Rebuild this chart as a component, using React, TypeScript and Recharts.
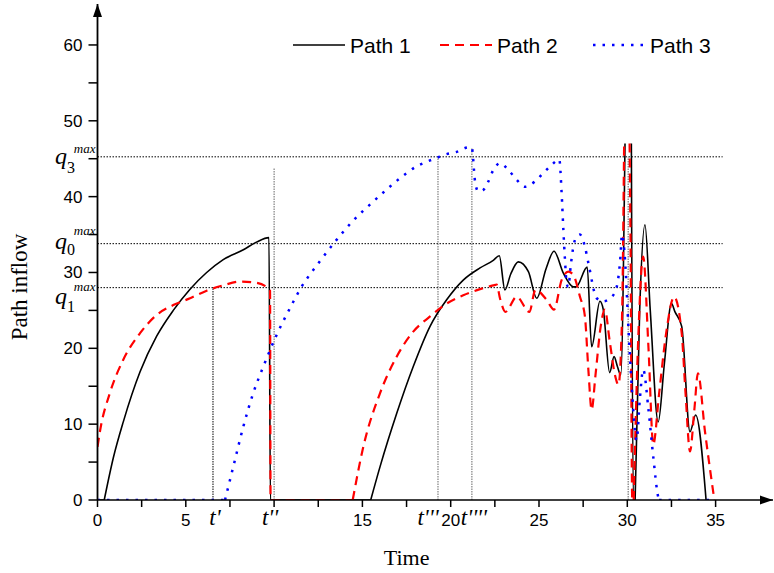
import React from 'react';
import {
  LineChart,
  Line,
  XAxis,
  YAxis,
  ReferenceLine,
  ReferenceDot,
  Legend,
  Label
} from 'recharts';

const SANS = '"Liberation Sans", Arial, sans-serif';
const SERIF = '"Liberation Serif", "Times New Roman", serif';

// [time, path inflow]; null = line leaves the top of the frame
const path1: [number, number | null][] = [
  [0, 0], [0.38, 0], [0.9, 5.6], [1.46, 10.3], [2.41, 16.9], [3.35, 21.6], [4.29, 25.0], [5.24, 27.8],
  [6.18, 30.0], [7.12, 31.7], [8.26, 33.0], [9.0, 34.0], [9.71, 34.6], [9.79, 0], [15.47, 0],
  [16.0, 4.4], [16.94, 11.4], [17.88, 17.6], [18.83, 22.9], [19.77, 26.4], [20.71, 29.0],
  [21.66, 30.6], [22.41, 31.6], [22.75, 32.2], [23.07, 27.7], [23.4, 29.8], [23.83, 31.4],
  [24.4, 30.1], [24.87, 26.6], [25.4, 30.5], [25.85, 32.8], [26.38, 29.9], [26.94, 28.1],
  [27.1, 28.1], [27.73, 30.7], [27.98, 20.2], [28.45, 26.2], [28.64, 25.1], [29.0, 16.8],
  [29.25, 18.9], [29.44, 17.6], [29.63, 16.5], [29.87, 47], [30.0, null], [30.23, 47],
  [30.34, 0], [30.44, 0], [30.7, 25], [31.0, 36.3], [31.3, 25], [31.75, 10.3], [32.1, 18],
  [32.5, 25.9], [32.7, 24.8], [33.08, 22.9], [33.55, 9.0], [33.87, 11.2], [34.46, 0]
];
const path1Corners = [0.38, 15.47, 30.44];

const path2: [number, number | null][] = [
  [0, 7.0], [0.15, 9.2], [0.7, 14.1], [1.46, 18.5], [2.41, 22.0], [3.35, 24.4], [4.29, 25.7],
  [5.24, 26.6], [6.18, 27.6], [7.12, 28.3], [8.07, 28.8], [8.82, 28.7], [9.58, 28.1],
  [9.77, 27.6], [9.8, 0], [14.45, 0], [15.05, 7.0], [16.0, 14.1], [16.94, 18.9], [17.88, 22.2],
  [18.83, 24.2], [19.77, 25.9], [20.71, 27.0], [21.66, 27.8], [22.41, 28.3], [22.6, 28.4],
  [22.8, 26.5], [23.1, 24.8], [23.74, 26.8], [24.45, 24.8], [24.8, 27.7], [25.43, 26.4],
  [25.85, 25.1], [26.28, 29.0], [26.66, 30.1], [26.94, 29.7], [27.32, 26.8], [27.6, 24.2],
  [27.8, 17], [27.98, 11.9], [28.2, 16.5], [28.5, 23], [28.73, 25.1], [29.0, 21], [29.3, 16.5],
  [29.5, 15.2], [29.7, 24], [29.82, 47], [29.95, null], [30.13, 47], [30.18, 35], [30.28, 0],
  [30.36, 0], [30.6, 20], [30.9, 32.1], [31.2, 20], [31.47, 7.3], [31.8, 14], [32.2, 22],
  [32.65, 26.8], [33.08, 22], [33.3, 14], [33.55, 6.4], [33.8, 12], [34.0, 16.7], [34.4, 9],
  [34.93, 0]
];
const path2Corners = [14.45, 30.36];

const path3: [number, number | null][] = [
  [0, 0], [7.22, 0], [7.69, 4.4], [8.26, 9.7], [8.82, 14.1], [9.39, 17.6], [10.15, 21.8],
  [10.9, 25.3], [11.5, 27.9], [12.5, 31.2], [13.5, 34.2], [14.5, 36.9], [15.5, 39.1],
  [16.5, 41.2], [17.5, 43.1], [18.07, 44.0], [18.64, 44.6], [19.2, 45.1], [19.77, 45.6],
  [20.34, 45.9], [21.0, 46.5], [21.19, 46.5], [21.38, 42.0], [21.56, 40.7], [21.85, 40.9],
  [22.13, 42.0], [22.41, 43.5], [22.8, 44.4], [23.27, 43.5], [23.74, 42.2], [24.2, 41.3],
  [24.77, 42.0], [25.24, 43.1], [25.72, 44.2], [26.15, 44.9], [26.28, 40.5], [26.38, 35.6],
  [26.47, 31.7], [26.57, 28.5], [26.66, 28.1], [26.8, 31], [27.04, 34.3], [27.32, 35.0],
  [27.6, 33.4], [27.8, 31.2], [28.27, 26.6], [28.64, 26.2], [29.12, 26.8], [29.4, 28.1],
  [29.6, 31.7], [29.7, 35.0], [29.87, 31.7], [30.06, 22.9], [30.25, 15.0], [30.53, 7.9],
  [30.7, 13], [30.9, 17.2], [31.2, 11.9], [31.47, 5.7], [31.75, 0.4], [31.8, 0], [35, 0]
];
const path3Corners = [7.22, 31.8];

const xMarks = [0, 2.5, 5, 7.5, 10, 12.5, 15, 17.5, 20, 22.5, 25, 27.5, 30, 32.5, 35];
const xNumbers = [0, 5, 15, 20, 25, 30, 35];
const moments = [6.54, 10, 19.28, 21.2];
const momentNames = ["t'", "t''", "t'''", "t''''"];
const momentTops = [28.0, 43.8, 45.25, 46.4];

const yMarks = [0, 5, 10, 15, 20, 25, 30, 35, 40, 45, 50, 55, 60];
const yNumbers = [0, 10, 20, 30, 40, 50, 60];
const qLevels = [45.25, 33.8, 28.0];
const qNames = ['3', '0', '1'];
const capTime = 30.05;

const xTicks = Array.from(new Set([...xMarks, ...moments])).sort((a, b) => a - b);
const yTicks = [...yMarks, ...qLevels].sort((a, b) => a - b);

// rows for recharts; a corner gets a tiny break so the curve keeps its kink there
const rows = (pts: [number, number | null][], corners: number[]) => {
  const out: { t: number; v: number | null }[] = [];
  pts.forEach(([t, v]) => {
    out.push({ t, v });
    if (corners.includes(t)) {
      out.push({ t: t + 0.0005, v: null });
      out.push({ t: t + 0.001, v });
    }
  });
  return out;
};

const momentShift = [2, -4, -10, 2];
const qOffsets = [
  { q: 7, sub: 16, max: -4 },
  { q: 5, sub: 11, max: -9 },
  { q: 16, sub: 24, max: 3 }
];

const XTick = ({ x, y, payload }: any) => {
  const v = payload.value;
  const m = moments.indexOf(v);
  return (
    <g>
      {xMarks.includes(v) && <line x1={x} x2={x} y1={y} y2={y + 7} stroke="#000" strokeWidth={1.5} />}
      {m >= 0 ? (
        <text x={x + momentShift[m]} y={y + 25} textAnchor="middle" fontFamily={SERIF} fontStyle="italic" fontSize={23}>
          {momentNames[m]}
        </text>
      ) : xNumbers.includes(v) ? (
        <text x={x} y={y + 26} textAnchor="middle" fontFamily={SANS} fontSize={17}>
          {v}
        </text>
      ) : null}
    </g>
  );
};

const YTick = ({ x, y, payload }: any) => {
  const v = payload.value;
  const q = qLevels.indexOf(v);
  if (q >= 0) {
    const o = qOffsets[q];
    return (
      <g fontFamily={SERIF}>
        <text x={x - 42.5} y={y + o.q} fontSize={24} fontStyle="italic">q</text>
        <text x={x - 30.5} y={y + o.sub} fontSize={16}>{qNames[q]}</text>
        <text x={x - 2} y={y + o.max} fontSize={13} fontStyle="italic" textAnchor="end">max</text>
      </g>
    );
  }
  return (
    <g>
      <line x1={x - 9} x2={x} y1={y} y2={y} stroke="#000" strokeWidth={1.5} />
      {yNumbers.includes(v) && (
        <text x={x - 15} y={y + 6} textAnchor="end" fontFamily={SANS} fontSize={17}>
          {v}
        </text>
      )}
    </g>
  );
};

const legendItems = [
  { name: 'Path 1', stroke: '#000000', dash: undefined, width: 1.6, x: 293 },
  { name: 'Path 2', stroke: '#ff0000', dash: '9 6', width: 2.2, x: 440 },
  { name: 'Path 3', stroke: '#0000ff', dash: '2.5 7', width: 2.5, x: 593 }
];

const renderLegend = () => (
  <svg width={774} height={70}>
    {legendItems.map(it => (
      <g key={it.name}>
        <line x1={it.x} x2={it.x + 52} y1={45} y2={45} stroke={it.stroke} strokeWidth={it.width} strokeDasharray={it.dash} />
        <text x={it.x + 57} y={53} fontFamily={SANS} fontSize={21}>{it.name}</text>
      </g>
    ))}
  </svg>
);

const upArrow = ({ cx, cy }: any) => <path d={`M${cx},${cy} L${cx - 4.5},${cy + 13} L${cx + 4.5},${cy + 13} Z`} fill="#000" />;
const rightArrow = ({ cx, cy }: any) => <path d={`M${cx},${cy} L${cx - 13},${cy - 4.5} L${cx - 13},${cy + 4.5} Z`} fill="#000" />;

export default function App() {
  return (
    <div style={{ position: 'absolute', left: 0, top: 0, width: 774, height: 573, background: '#fff' }}>
      <LineChart width={774} height={573} margin={{ top: 4, right: 1, left: 0, bottom: 0 }}>
        <XAxis
          dataKey="t"
          type="number"
          domain={[0, 38.25]}
          ticks={xTicks}
          interval={0}
          allowDataOverflow
          height={73}
          tickSize={0}
          tickMargin={0}
          tickLine={false}
          tick={<XTick />}
          axisLine={{ stroke: '#000', strokeWidth: 1.5 }}
        >
          <Label
            content={() => (
              <text x={406.6} y={565} textAnchor="middle" fontFamily={SERIF} fontSize={22}>Time</text>
            )}
          />
        </XAxis>
        <YAxis
          type="number"
          domain={[0, 65.4]}
          ticks={yTicks}
          interval={0}
          allowDataOverflow
          width={97.5}
          tickSize={0}
          tickMargin={0}
          tickLine={false}
          tick={<YTick />}
          axisLine={{ stroke: '#000', strokeWidth: 1.8 }}
        >
          <Label
            content={() => (
              <text x={0} y={0} transform="translate(27,287) rotate(-90)" textAnchor="middle" fontFamily={SERIF} fontSize={23}>
                Path inflow
              </text>
            )}
          />
        </YAxis>
        <Legend verticalAlign="middle" layout="horizontal" content={renderLegend} wrapperStyle={{ left: 0, top: 0, width: 774, height: 70 }} />

        {qLevels.map(q => (
          <ReferenceLine
            key={'q' + q}
            segment={[{ x: 0, y: q }, { x: 35.4, y: q }]}
            stroke="#000"
            strokeWidth={1}
            strokeDasharray="1.5 1.5"
          />
        ))}
        {moments.map((m, i) => (
          <ReferenceLine
            key={'m' + m}
            segment={[{ x: m, y: 0 }, { x: m, y: momentTops[i] }]}
            stroke={i === 0 ? '#000' : '#666'}
            strokeWidth={1}
            strokeDasharray="1.5 1"
          />
        ))}
        <ReferenceLine
          segment={[{ x: capTime, y: 0 }, { x: capTime, y: qLevels[0] }]}
          stroke="#777"
          strokeWidth={1.2}
          strokeDasharray="1.5 1"
        />

        <Line data={rows(path1, path1Corners)} dataKey="v" name="Path 1" type="monotone" stroke="#000" strokeWidth={1.6} dot={false} isAnimationActive={false} />
        <Line data={rows(path2, path2Corners)} dataKey="v" name="Path 2" type="monotone" stroke="#ff0000" strokeWidth={2.2} strokeDasharray="9 6" dot={false} isAnimationActive={false} />
        <Line data={rows(path3, path3Corners)} dataKey="v" name="Path 3" type="monotone" stroke="#0000ff" strokeWidth={2.5} strokeDasharray="2.5 7" dot={false} isAnimationActive={false} />

        <ReferenceDot x={0} y={65.4} r={0} shape={upArrow} ifOverflow="visible" />
        <ReferenceDot x={38.25} y={0} r={0} shape={rightArrow} ifOverflow="visible" />
      </LineChart>
    </div>
  );
}
